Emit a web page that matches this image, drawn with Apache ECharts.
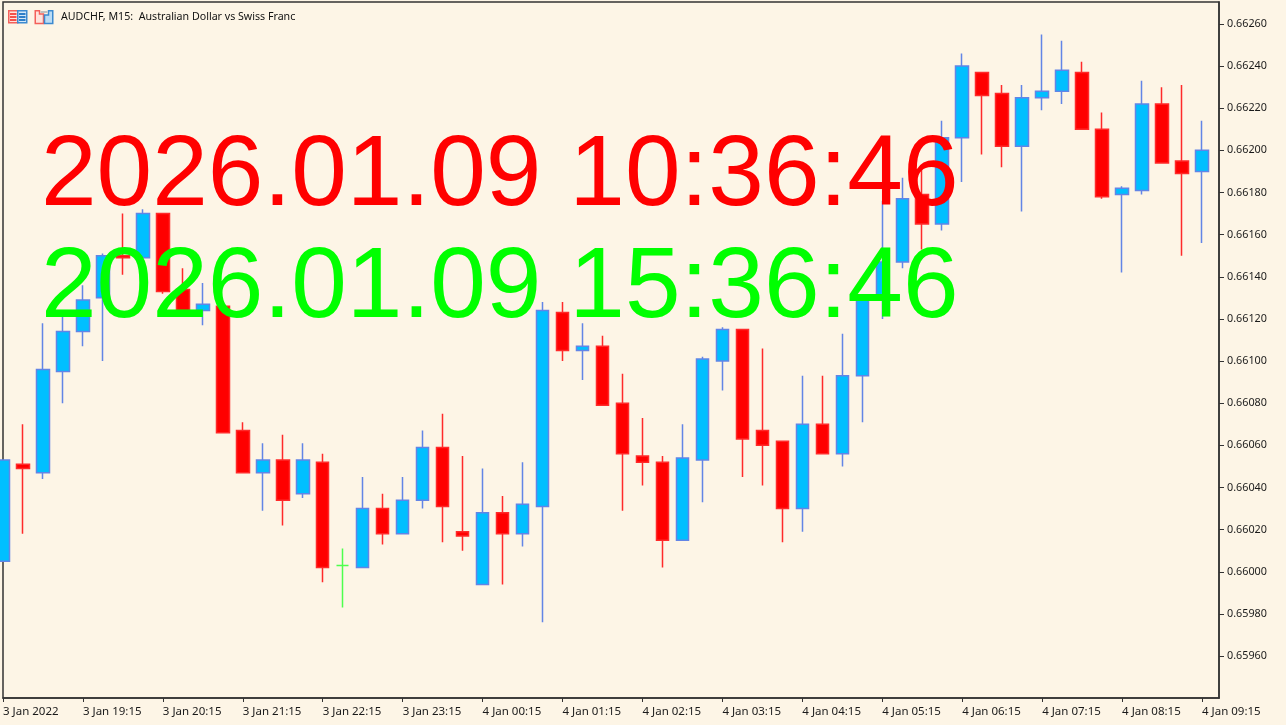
<!DOCTYPE html>
<html>
<head>
<meta charset="utf-8">
<title>AUDCHF, M15</title>
<style>html,body{margin:0;padding:0;background:#FDF5E6}#c{width:1286px;height:725px}</style>
<script src="https://cdn.jsdelivr.net/npm/echarts@6/dist/echarts.min.js"></script>
</head>
<body>
<div id="c"></div>
<script>
const opens = [0.66005,0.66051,0.66047,0.66095,0.66114,0.66130,0.66150,0.66149,0.66170,0.66134,0.66124,0.66126,0.66067,0.66047,0.66053,0.66037,0.66052,0.66003,0.66002,0.66030,0.66018,0.66034,0.66059,0.66019,0.65994,0.66028,0.66018,0.66031,0.66123,0.66105,0.66107,0.66080,0.66055,0.66052,0.66015,0.66053,0.66100,0.66115,0.66067,0.66062,0.66030,0.66070,0.66056,0.66093,0.66131,0.66147,0.66179,0.66165,0.66206,0.66237,0.66227,0.66202,0.66225,0.66228,0.66237,0.66210,0.66179,0.66181,0.66222,0.66195,0.66190];
const closes = [0.66053,0.66049,0.66096,0.66114,0.66129,0.66150,0.66149,0.66170,0.66133,0.66124,0.66127,0.66066,0.66047,0.66053,0.66034,0.66053,0.66002,0.66003,0.66030,0.66018,0.66034,0.66059,0.66031,0.66017,0.66028,0.66018,0.66032,0.66124,0.66105,0.66107,0.66079,0.66056,0.66052,0.66015,0.66054,0.66101,0.66115,0.66063,0.66060,0.66030,0.66070,0.66056,0.66093,0.66131,0.66147,0.66177,0.66165,0.66206,0.66240,0.66226,0.66202,0.66225,0.66228,0.66238,0.66210,0.66178,0.66182,0.66222,0.66194,0.66189,0.66200];
const lows = [0.66005,0.66018,0.66044,0.66080,0.66107,0.66100,0.66141,0.66149,0.66132,0.66124,0.66117,0.66066,0.66047,0.66029,0.66022,0.66035,0.65995,0.65983,0.66002,0.66013,0.66018,0.66030,0.66014,0.66010,0.65994,0.65994,0.66012,0.65976,0.66100,0.66091,0.66079,0.66029,0.66041,0.66002,0.66015,0.66033,0.66086,0.66045,0.66041,0.66014,0.66019,0.66056,0.66050,0.66071,0.66120,0.66144,0.66153,0.66162,0.66185,0.66198,0.66192,0.66171,0.66219,0.66222,0.66210,0.66177,0.66142,0.66179,0.66194,0.66150,0.66156];
const highs = [0.66053,0.66070,0.66118,0.66121,0.66136,0.66151,0.66170,0.66172,0.66170,0.66144,0.66137,0.66126,0.66071,0.66061,0.66065,0.66061,0.66056,0.66011,0.66045,0.66037,0.66045,0.66067,0.66075,0.66055,0.66049,0.66036,0.66052,0.66128,0.66128,0.66118,0.66112,0.66094,0.66073,0.66055,0.66070,0.66102,0.66116,0.66115,0.66106,0.66062,0.66093,0.66093,0.66113,0.66131,0.66176,0.66187,0.66192,0.66214,0.66246,0.66237,0.66231,0.66231,0.66255,0.66252,0.66242,0.66218,0.66183,0.66233,0.66230,0.66231,0.66214];
const timeLabels = ['3 Jan 2022','3 Jan 19:15','3 Jan 20:15','3 Jan 21:15','3 Jan 22:15','3 Jan 23:15','4 Jan 00:15','4 Jan 01:15','4 Jan 02:15','4 Jan 03:15','4 Jan 04:15','4 Jan 05:15','4 Jan 06:15','4 Jan 07:15','4 Jan 08:15','4 Jan 09:15'];
const timeTicks = [0,4,8,12,16,20,24,28,32,36,40,44,48,52,56,60];
const priceTicks = [0.6596,0.6598,0.6600,0.6602,0.6604,0.6606,0.6608,0.6610,0.6612,0.6614,0.6616,0.6618,0.6620,0.6622,0.6624,0.6626];
const title = 'AUDCHF, M15:  Australian Dollar vs Swiss Franc';
const clockLocal = '2026.01.09 10:36:46';
const clockServer = '2026.01.09 15:36:46';

const candles = opens.map((o, i) => [i, o, closes[i], lows[i], highs[i]]);
const uiFont = '"Noto Sans", sans-serif';
const ink = '#333333';

const chart = echarts.init(document.getElementById('c'), null, {renderer: 'canvas'});

function icon1(x, y) {
  return [
    {type:'rect', shape:{x:x+0.75,y:y+0.75,width:9,height:12}, style:{fill:'#FFE4DE',stroke:'#F4605A',lineWidth:1.5}},
    {type:'rect', shape:{x:x+9.75,y:y+0.75,width:9,height:12}, style:{fill:'#D4E8F8',stroke:'#3C8AD0',lineWidth:1.5}},
    {type:'rect', shape:{x:x+2,y:y+3,width:6.5,height:2}, style:{fill:'#F4504A'}},
    {type:'rect', shape:{x:x+2,y:y+6,width:6.5,height:2}, style:{fill:'#F4504A'}},
    {type:'rect', shape:{x:x+2,y:y+9,width:6.5,height:2}, style:{fill:'#F4504A'}},
    {type:'rect', shape:{x:x+11,y:y+3,width:6.5,height:2}, style:{fill:'#2F7FC8'}},
    {type:'rect', shape:{x:x+11,y:y+6,width:6.5,height:2}, style:{fill:'#2F7FC8'}},
    {type:'rect', shape:{x:x+11,y:y+9,width:6.5,height:2}, style:{fill:'#2F7FC8'}}
  ];
}
function icon2(x, y) {
  return [
    {type:'polygon', shape:{points:[[x+0.75,y+0.75],[x+5,y+0.75],[x+5,y+4],[x+9,y+4],[x+9,y+13.5],[x+0.75,y+13.5]]}, style:{fill:'#FFE3DC',stroke:'#F4605A',lineWidth:1.5}},
    {type:'polygon', shape:{points:[[x+10,y+13.5],[x+10,y+5],[x+14,y+5],[x+14,y+0.75],[x+18.25,y+0.75],[x+18.25,y+13.5]]}, style:{fill:'#BBDCF5',stroke:'#3C8AD0',lineWidth:1.5}},
    {type:'rect', shape:{x:x+6,y:y+1,width:7,height:2}, style:{fill:'#C0C0C0'}}
  ];
}

chart.setOption({
  animation: false,
  backgroundColor: '#FDF5E6',
  grid: {left: 2, top: 2, width: 1217, height: 696, show: true, backgroundColor: 'transparent', borderColor: ink, borderWidth: 1.5},
  xAxis: {
    type: 'value', min: 0, max: 60.85, splitLine: {show: false},
    axisLine: {show: true, onZero: false, lineStyle: {color: ink, width: 1.5}},
    axisTick: {show: true, length: 4, inside: false, customValues: timeTicks, lineStyle: {color: ink, width: 1}},
    axisLabel: {
      show: true, customValues: timeTicks, margin: 8, align: 'left', color: '#1a1a1a',
      fontFamily: uiFont, fontSize: 11.5,
      formatter: v => timeLabels[timeTicks.indexOf(v)] || ''
    }
  },
  yAxis: {
    type: 'value', position: 'right', min: 0.659401, max: 0.662704, scale: true, splitLine: {show: false},
    axisLine: {show: true, onZero: false, lineStyle: {color: ink, width: 1.5}},
    axisTick: {show: true, length: 5, customValues: priceTicks, lineStyle: {color: ink, width: 1}},
    axisLabel: {
      show: true, customValues: priceTicks, margin: 8, color: '#1a1a1a',
      fontFamily: uiFont, fontSize: 10.8, padding: [2, 0, 0, 0],
      formatter: v => v.toFixed(5)
    }
  },
  series: [{
    type: 'candlestick', layout: 'horizontal', barWidth: 13, clip: true,
    encode: {x: 0, y: [1, 2, 3, 4]},
    itemStyle: {color: '#00BFFF', color0: '#FF0000', borderColor: '#6285E6', borderColor0: '#FF2A2A', borderColorDoji: '#4DFF4D', borderWidth: 1.5},
    data: candles
  }],
  graphic: {elements: [
    {type:'text', z: 100, left: 41, top: 127, style:{text: clockLocal, fill:'#FF0000', font:'100px "Liberation Sans", Arial, sans-serif'}},
    {type:'text', z: 100, left: 41, top: 239, style:{text: clockServer, fill:'#00FF00', font:'100px "Liberation Sans", Arial, sans-serif'}},
    {type:'text', z: 100, left: 61, top: 11, style:{text: title, fill:'#111111', font:'10.65px "Noto Sans", sans-serif'}},
    {type:'group', z: 100, children: icon1(8, 10).concat(icon2(34.5, 10))}
  ]}
});
</script>
</body>
</html>
